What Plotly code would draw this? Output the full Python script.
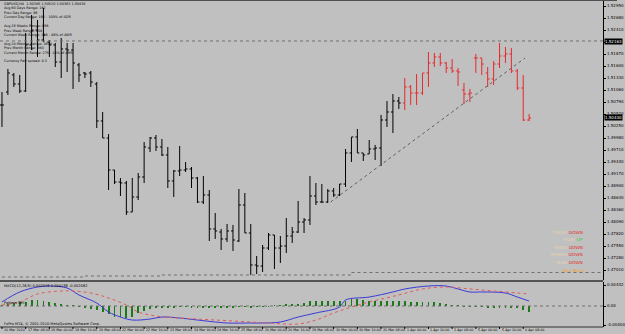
import plotly.graph_objects as go

# ---------------- data (GBPUSD, H4) ----------------
opens = [1.50723, 1.51015, 1.51398, 1.51195, 1.51038, 1.52073, 1.52410, 1.52185, 1.52140, 1.52073,
         1.51690, 1.51983, 1.51960, 1.51623, 1.51443, 1.51443, 1.51195, 1.50363, 1.49980, 1.49260,
         1.48990, 1.48968, 1.48315, 1.48653, 1.49103, 1.49755, 1.49980, 1.49778, 1.49598, 1.49013,
         1.49238, 1.49260, 1.49283, 1.49080, 1.48540, 1.48698, 1.47933, 1.47865, 1.47708, 1.47888,
         1.47663, 1.48473, 1.47843, 1.47123, 1.47100, 1.47505, 1.47798, 1.47505, 1.47550, 1.47775,
         1.47865, 1.48090, 1.48135, 1.48675, 1.48540, 1.48540, 1.48788, 1.48698, 1.48945, 1.49643,
         1.50003, 1.49643, 1.49620, 1.49733, 1.49755, 1.50385, 1.50565, 1.50813,
         1.50768, 1.51128, 1.50993, 1.50993, 1.51443, 1.51668, 1.51803, 1.51668, 1.51555, 1.51488,
         1.51060, 1.50970, 1.51780, 1.51780, 1.51443, 1.51308, 1.51645, 1.51825, 1.51870, 1.51488,
         1.51105, 1.50385]
highs = [1.51015, 1.51533, 1.51443, 1.51398, 1.52343, 1.52748, 1.52635, 1.52905, 1.52185, 1.52118,
         1.52230, 1.52118, 1.52118, 1.51668, 1.51465, 1.51488, 1.51240, 1.50565, 1.50070, 1.49260,
         1.49080, 1.49013, 1.49080, 1.49193, 1.49890, 1.50003, 1.50048, 1.49958, 1.49778, 1.49260,
         1.49800, 1.49440, 1.49328, 1.49103, 1.49125, 1.48810, 1.48293, 1.47933, 1.48045, 1.48023,
         1.48833, 1.48743, 1.48045, 1.47325, 1.47573, 1.47843, 1.47798, 1.47775, 1.48180, 1.47978,
         1.48563, 1.48180, 1.49125, 1.48968, 1.48945, 1.48833, 1.48855, 1.48945, 1.49733, 1.50003,
         1.50183, 1.49643, 1.49935, 1.49823, 1.50498, 1.50813, 1.50970, 1.50903,
         1.51330, 1.51173, 1.51420, 1.51443, 1.51915, 1.51893, 1.51893, 1.51690, 1.51758, 1.51555,
         1.51218, 1.51083, 1.51870, 1.51780, 1.51578, 1.51713, 1.52118, 1.52028, 1.52005, 1.51533,
         1.51398, 1.50520]
lows = [1.50228, 1.50948, 1.51128, 1.50993, 1.51015, 1.51960, 1.51803, 1.52140, 1.51803, 1.51578,
        1.51330, 1.51465, 1.51083, 1.51240, 1.51330, 1.51128, 1.50205, 1.49980, 1.48810, 1.48945,
        1.48675, 1.48248, 1.48315, 1.48585, 1.48968, 1.49665, 1.49688, 1.49575, 1.48855, 1.48653,
        1.49125, 1.49215, 1.48855, 1.48518, 1.48495, 1.47663, 1.47708, 1.47460, 1.47640, 1.47438,
        1.47640, 1.47843, 1.46898, 1.46920, 1.46965, 1.47460, 1.47033, 1.47168, 1.47393, 1.47618,
        1.47843, 1.47843, 1.48023, 1.48473, 1.48518, 1.48518, 1.48653, 1.48675, 1.48878, 1.49440,
        1.49643, 1.49463, 1.49620, 1.49485, 1.49350, 1.50228, 1.50093, 1.50633,
        1.50610, 1.50723, 1.50723, 1.50948, 1.51128, 1.51578, 1.51600, 1.51443, 1.51443, 1.51150,
        1.50745, 1.50790, 1.51443, 1.51398, 1.51128, 1.51173, 1.51555, 1.51668, 1.51443, 1.51060,
        1.50363, 1.50363]
closes = [1.50723, 1.51443, 1.51195, 1.51038, 1.52073, 1.52410, 1.52185, 1.52298, 1.52073, 1.51690,
          1.51983, 1.51960, 1.51668, 1.51398, 1.51420, 1.51240, 1.50363, 1.49980, 1.49260, 1.48990,
          1.48968, 1.48315, 1.48653, 1.49103, 1.49778, 1.49980, 1.49778, 1.49598, 1.49013, 1.49238,
          1.49260, 1.49283, 1.49080, 1.48540, 1.48698, 1.47933, 1.47888, 1.47708, 1.47888, 1.47685,
          1.48473, 1.47843, 1.47123, 1.47100, 1.47505, 1.47798, 1.47505, 1.47550, 1.47775, 1.47865,
          1.48090, 1.48135, 1.48675, 1.48540, 1.48540, 1.48788, 1.48698, 1.48945, 1.49643, 1.50003,
          1.49643, 1.49598, 1.49733, 1.49755, 1.50385, 1.50565, 1.50813, 1.50768,
          1.51128, 1.50993, 1.50993, 1.51443, 1.51668, 1.51803, 1.51668, 1.51555, 1.51488, 1.51465,
          1.50970, 1.50993, 1.51780, 1.51645, 1.51308, 1.51645, 1.51825, 1.51870, 1.51488, 1.51105,
          1.50385, 1.50430]
red_from = 68  # bars from 1 Apr 00:00 are drawn in red

date_labels = ["16 Mar 2010", "17 Mar 08:00", "18 Mar 00:00", "18 Mar 16:00", "19 Mar 08:00",
               "22 Mar 00:00", "22 Mar 16:00", "23 Mar 08:00", "24 Mar 00:00", "24 Mar 16:00",
               "25 Mar 08:00", "26 Mar 00:00", "26 Mar 16:00", "29 Mar 08:00", "30 Mar 00:00",
               "30 Mar 16:00", "31 Mar 08:00", "1 Apr 00:00", "1 Apr 16:00", "2 Apr 08:00",
               "5 Apr 00:00", "5 Apr 16:00", "6 Apr 08:00"]
date_label_every = 4

price_ticks = [1.52950, 1.52680, 1.52410, 1.52140, 1.51870, 1.51600, 1.51330, 1.51060, 1.50790,
               1.50520, 1.50250, 1.49980, 1.49710, 1.49440, 1.49170, 1.48900, 1.48630, 1.48360,
               1.48090, 1.47820, 1.47550, 1.47280, 1.47010]

level_high = 1.52163
trend_x = [55.5, 88.3]
trend_y = [1.48540, 1.51780]
floor_x = [0, 14, 27, 59, 102]
floor_y = [1.46852, 1.46875, 1.46898, 1.46954, 1.46954]

# MACD(12,26,9)
macd_x = [0, 3, 6, 8, 11, 13, 16, 18, 20, 22, 25, 27, 30, 33, 36, 38, 42, 44, 47, 50, 53,
          57, 58, 62, 66, 68, 72, 75, 77, 79, 81, 85, 87, 89]
macd_main = [0.00084, 0.00295, 0.00400, 0.00421, 0.00379, 0.00232, 0.00063, -0.00126, -0.00232,
             -0.00295, -0.00274, -0.00232, -0.00253, -0.00295, -0.00337, -0.00358, -0.00358,
             -0.00358, -0.00337, -0.00232, -0.00147, -0.00021, 0.00126, 0.00189, 0.00295, 0.00358,
             0.00421, 0.00421, 0.00358, 0.00295, 0.00295, 0.00274, 0.00189, 0.00105]
sig_x = [0, 3, 6, 10, 12, 15, 18, 21, 23, 26, 30, 36, 42, 45, 50, 53, 56, 59, 62, 67, 71, 75,
         79, 83, 87, 89]
macd_signal = [0.00021, 0.00084, 0.00253, 0.00316, 0.00316, 0.00274, 0.00168, 0.00021, -0.00126,
               -0.00211, -0.00253, -0.00295, -0.00337, -0.00358, -0.00379, -0.00295, -0.00147,
               -0.00021, 0.00084, 0.00232, 0.00358, 0.00400, 0.00358, 0.00316, 0.00274, 0.00253]
macd_hist = [0.00014, 0.00035, 0.00056, 0.00077, 0.00091, 0.00126, 0.00126, 0.00112, 0.00077, 0.00056,
             0.00035, 0.00021, 0.00005, -0.00014, -0.00028, -0.00056, -0.00084, -0.00126, -0.00168, -0.00225,
             -0.00239, -0.00246, -0.00225, -0.00154, -0.00105, -0.00070, -0.00049, -0.00035, -0.00028, -0.00028,
             -0.00021, -0.00021, -0.00028, -0.00028, -0.00035, -0.00035, -0.00035, -0.00035, -0.00028, -0.00028,
             -0.00021, -0.00021, -0.00028, -0.00021, -0.00014, -0.00007, 0.00003, 0.00014, 0.00028, 0.00035,
             0.00049, 0.00063, 0.00105, 0.00105, 0.00105, 0.00105, 0.00105, 0.00105, 0.00112, 0.00140,
             0.00140, 0.00126, 0.00112, 0.00105, 0.00105, 0.00105, 0.00105, 0.00105, 0.00105, 0.00091,
             0.00077, 0.00077, 0.00077, 0.00077, 0.00056, 0.00035, 0.00021, 0.00003, -0.00014, -0.00021,
             -0.00021, -0.00021, -0.00028, -0.00028, -0.00028, -0.00035, -0.00035, -0.00049, -0.00084, -0.00133]
macd_ticks = [0.00442, 0.0, -0.00400]
macd_ticktext = ["0.00442", "0.00", "-0.00400"]

info_lines = ["GBPUSD,H4  1.50385 1.50520 1.50363 1.50430",
              "Avg 60 Days Range: 162",
              "Prev Day Range: 96",
              "Current Day Range: 162 - 100% of ADR",
              "",
              "Avg 26 Weeks Range: 496",
              "Prev Week Range: 404",
              "Current Week Range: 226 - 46% of AWR",
              "",
              "Avg 24 Months Range: 1694",
              "Prev Month Range: 580",
              "Current Month Range: 275 - 16% of AMR",
              "",
              "Currency Pair spread: 4.3"]
status_names = ["TODAY", "Y-DAY", "WEEK", "MONTH", "YEAR"]
status_vals = ["DOWN", "UP", "DOWN", "DOWN", "DOWN"]

# ---------------- geometry ----------------
W, H = 625, 334
PLOT_R = 611
MAIN_BOTTOM = 280
MACD_TOP, MACD_BOTTOM = 282, 327
def py(p):  # pixel row -> paper y
    return 1 - p / H
def px(p):
    return p / W

BG = "#c0c0c0"
FONT = "DejaVu Sans"
n = len(closes)
idx = list(range(n))
xr = [-1 / 3, (PLOT_R - 2) / 6]

# price marked on the axis with a black label hides the ordinary tick label under it
marked = [level_high, closes[-1]]
price_ticktext = ["" if any(abs(v - m) < 0.0006 for m in marked[:1]) else f"{v:.5f}"
                  for v in price_ticks]

fig = go.Figure()
fig.add_trace(go.Ohlc(x=idx[:red_from], open=opens[:red_from], high=highs[:red_from],
                      low=lows[:red_from], close=closes[:red_from], tickwidth=0.33,
                      increasing=dict(line=dict(color="#000000", width=1)),
                      decreasing=dict(line=dict(color="#000000", width=1)),
                      hoverinfo="skip", showlegend=False))
fig.add_trace(go.Ohlc(x=idx[red_from:], open=opens[red_from:], high=highs[red_from:],
                      low=lows[red_from:], close=closes[red_from:], tickwidth=0.33,
                      increasing=dict(line=dict(color="#e8282c", width=1)),
                      decreasing=dict(line=dict(color="#e8282c", width=1)),
                      hoverinfo="skip", showlegend=False))
fig.add_trace(go.Scatter(x=xr, y=[level_high, level_high], mode="lines",
                         line=dict(color="#707070", width=1, dash="dot"), showlegend=False))
fig.add_trace(go.Scatter(x=trend_x, y=trend_y, mode="lines",
                         line=dict(color="#606060", width=1, dash="dot"), showlegend=False))
fig.add_trace(go.Scatter(x=floor_x, y=floor_y, mode="lines", line_shape="hv",
                         line=dict(color="#707070", width=1, dash="dot"), showlegend=False))

# MACD panel
fig.add_trace(go.Scatter(x=xr, y=[0, 0], mode="lines", xaxis="x2", yaxis="y2",
                         line=dict(color="#707070", width=1, dash="dot"), showlegend=False))
fig.add_trace(go.Bar(x=idx, y=macd_hist, xaxis="x2", yaxis="y2", width=0.14,
                     marker=dict(color="#1a7a1a", line=dict(width=0)), showlegend=False))
fig.add_trace(go.Scatter(x=macd_x, y=macd_main, xaxis="x2", yaxis="y2", mode="lines",
                         line=dict(color="#3a3ad8", width=1, shape="spline"), showlegend=False))
fig.add_trace(go.Scatter(x=sig_x, y=macd_signal, xaxis="x2", yaxis="y2", mode="lines",
                         line=dict(color="#e05a5a", width=1, dash="dot", shape="spline"),
                         showlegend=False))

main_lo = 1.53085 - 0.000225 * MAIN_BOTTOM
macd_per_px = 0.00442 / 21
macd_rng = [-(MACD_BOTTOM - 306) * macd_per_px, (306 - MACD_TOP) * macd_per_px]

fig.update_layout(
    width=W, height=H, margin=dict(l=0, r=0, t=0, b=0),
    paper_bgcolor=BG, plot_bgcolor=BG, bargap=0,
    font=dict(family=FONT, size=4, color="#000000"),
    xaxis=dict(domain=[0, px(PLOT_R)], range=xr, showticklabels=False, showgrid=False,
               zeroline=False, rangeslider=dict(visible=False), anchor="y", fixedrange=True),
    yaxis=dict(domain=[py(MAIN_BOTTOM), 1], range=[main_lo, 1.53085], side="right",
               tickvals=price_ticks, ticktext=price_ticktext,
               tickfont=dict(size=4, family=FONT), ticks="outside", ticklen=2, tickcolor="#000",
               showgrid=False, zeroline=False, showline=True, linecolor="#000", linewidth=1,
               anchor="x"),
    xaxis2=dict(domain=[0, px(PLOT_R)], range=xr, showticklabels=False, showgrid=False,
                zeroline=False, anchor="y2", fixedrange=True),
    yaxis2=dict(domain=[py(MACD_BOTTOM), py(MACD_TOP)], range=macd_rng, side="right",
                tickvals=macd_ticks, ticktext=macd_ticktext, tickfont=dict(size=4, family=FONT),
                ticks="outside", ticklen=2, tickcolor="#000", showgrid=False, zeroline=False,
                showline=True, linecolor="#000", linewidth=1, anchor="x2"),
)

shapes = [
    dict(type="line", xref="paper", yref="paper", x0=0, x1=1, y0=py(0.5), y1=py(0.5),
         line=dict(color="#505050", width=1)),
    dict(type="line", xref="paper", yref="paper", x0=0, x1=px(PLOT_R), y0=py(281), y1=py(281),
         line=dict(color="#303030", width=1.5)),
    dict(type="line", xref="paper", yref="paper", x0=0, x1=px(PLOT_R), y0=py(MACD_BOTTOM),
         y1=py(MACD_BOTTOM), line=dict(color="#303030", width=1)),
]
for k, lab in enumerate(date_labels):
    shapes.append(dict(type="line", xref="x2", yref="paper", x0=k * date_label_every,
                       x1=k * date_label_every, y0=py(MACD_BOTTOM), y1=py(MACD_BOTTOM + 2),
                       line=dict(color="#000", width=1)))
fig.update_layout(shapes=shapes)

ann = []
for k, lab in enumerate(date_labels):
    ann.append(dict(x=k * date_label_every, xref="x2", y=py(333.5), yref="paper",
                    xanchor="left", yanchor="bottom", text=lab, showarrow=False,
                    font=dict(size=3.3, family=FONT, color="#000")))
ann.append(dict(x=px(2), y=py(0.5), xref="paper", yref="paper", xanchor="left", yanchor="top",
                align="left", showarrow=False, text="<br>".join(info_lines),
                font=dict(size=3.4, family=FONT, color="#000")))
for k, (nm, st) in enumerate(zip(status_names, status_vals)):
    col = "#3cc83c" if st == "UP" else "#e03030"
    ann.append(dict(x=px(593), y=py(232 + 7.5 * k), xref="paper", yref="paper",
                    xanchor="right", yanchor="middle", showarrow=False,
                    text=f"<span style='color:#e8d2b0'>{nm}</span> <span style='color:{col}'>{st}</span>",
                    font=dict(size=4.3, family=FONT)))
ann.append(dict(x=px(581), y=py(270), xref="paper", yref="paper", xanchor="center",
                yanchor="middle", showarrow=False, text="Hour Mover",
                font=dict(size=4, family=FONT, color="#f0a030")))
for val, row in [(level_high, 41), (closes[-1], 117.5)]:
    ann.append(dict(x=px(PLOT_R + 1), y=py(row), xref="paper", yref="paper", xanchor="left",
                    yanchor="middle", showarrow=False, text=f"{val:.5f}", bgcolor="#000000",
                    borderpad=0, font=dict(size=4, family=FONT, color="#ffffff")))
ann.append(dict(x=px(2), y=py(286), xref="paper", yref="paper", xanchor="left", yanchor="middle",
                showarrow=False, text="MACD(12,26,9) 0.002076 0.004136 -0.002062",
                font=dict(size=3.6, family=FONT, color="#000")))
ann.append(dict(x=px(2), y=py(303), xref="paper", yref="paper", xanchor="left", yanchor="middle",
                showarrow=False, text="Pattern Sell", font=dict(size=3.6, family=FONT, color="#000")))
ann.append(dict(x=px(2), y=py(324), xref="paper", yref="paper", xanchor="left", yanchor="middle",
                showarrow=False, text="FxPro MT4, © 2001-2010 MetaQuotes Software Corp.",
                font=dict(size=3.6, family=FONT, color="#000")))
fig.update_layout(annotations=ann)

fig.write_html("out.html")
